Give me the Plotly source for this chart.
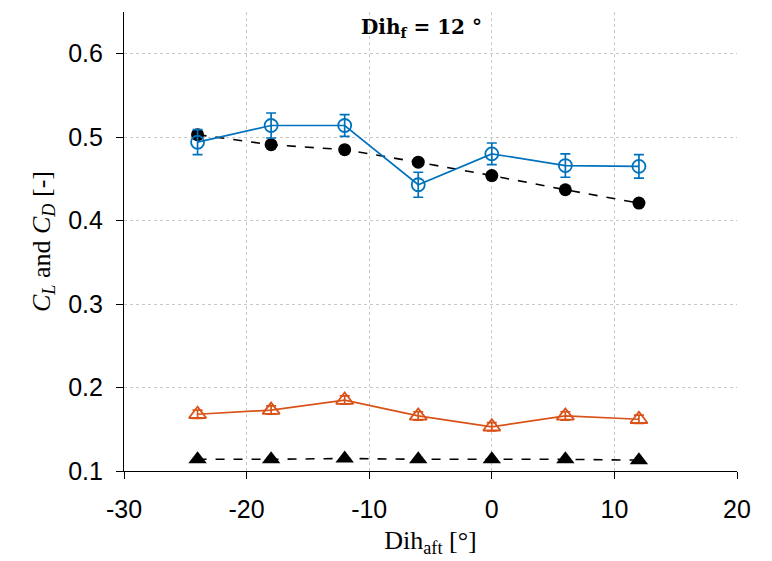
import plotly.graph_objects as go

dih_aft = [-24, -18, -12, -6, 0, 6, 12]
cl_exp = [0.494, 0.514, 0.514, 0.443, 0.480, 0.466, 0.465]
cl_err = [0.015, 0.015, 0.013, 0.015, 0.013, 0.014, 0.014]
cl_num = [0.503, 0.491, 0.485, 0.470, 0.454, 0.437, 0.421]
cd_exp = [0.168, 0.173, 0.185, 0.166, 0.153, 0.166, 0.162]
cd_err = [0.005, 0.005, 0.005, 0.005, 0.005, 0.005, 0.005]
cd_num = [0.114, 0.114, 0.115, 0.114, 0.114, 0.114, 0.113]

x_ticks = [-30, -20, -10, 0, 10, 20]
x_labels = ["-30", "-20", "-10", "0", "10", "20"]
y_ticks = [0.1, 0.2, 0.3, 0.4, 0.5, 0.6]
y_labels = ["0.1", "0.2", "0.3", "0.4", "0.5", "0.6"]

blue = "#0072BD"
orange = "#D95319"

fig = go.Figure()
fig.add_trace(go.Scatter(x=dih_aft, y=cl_num, mode="lines+markers",
                         line=dict(color="black", width=1.6, dash="dash"),
                         marker=dict(symbol="circle", size=13, color="black")))
fig.add_trace(go.Scatter(x=dih_aft, y=cl_exp, mode="lines+markers",
                         line=dict(color=blue, width=1.7),
                         marker=dict(symbol="circle-open", size=13, color=blue, line=dict(width=1.8)),
                         error_y=dict(type="data", array=cl_err, color=blue, thickness=1.7, width=5)))
fig.add_trace(go.Scatter(x=dih_aft, y=cd_exp, mode="lines+markers",
                         line=dict(color=orange, width=1.7),
                         marker=dict(symbol="triangle-up-open", size=15, color=orange, line=dict(width=1.8)),
                         error_y=dict(type="data", array=cd_err, color=orange, thickness=1.7, width=5)))
fig.add_trace(go.Scatter(x=dih_aft, y=cd_num, mode="lines+markers",
                         line=dict(color="black", width=1.6, dash="dash"),
                         marker=dict(symbol="triangle-up", size=16, color="black")))

axis_common = dict(showline=True, linecolor="black", linewidth=1.2, ticks="outside",
                   ticklen=7, tickcolor="black", tickwidth=1.2,
                   showgrid=True, gridcolor="#c8c8c8", griddash="dot", gridwidth=1,
                   zeroline=False, mirror=False,
                   tickfont=dict(family="Liberation Sans, Arial", size=25, color="black"))

serif = "Liberation Serif, DejaVu Serif"

fig.update_layout(
    width=772, height=561,
    margin=dict(l=116, r=43, t=4, b=98),
    plot_bgcolor="white", paper_bgcolor="white",
    showlegend=False,
    xaxis=dict(range=[-30, 20], tickvals=x_ticks, ticktext=x_labels, ticklabelstandoff=9,
               title=dict(text="Dih<sub>aft</sub> [°]", standoff=8,
                          font=dict(family=serif, size=26, color="black")),
               **axis_common),
    yaxis=dict(range=[0.1, 0.65], tickvals=y_ticks, ticktext=y_labels, ticklabelstandoff=8,
               title=dict(text="<i>C<sub>L</sub></i> and <i>C<sub>D</sub></i> [-]", standoff=10,
                          font=dict(family=serif, size=26, color="black")),
               **axis_common),
    annotations=[dict(text="<b>Dih<sub>f</sub> = 12 °</b>", xref="paper", yref="paper",
                      x=0.485, y=0.966, showarrow=False, xanchor="center", yanchor="middle",
                      font=dict(family="DejaVu Serif", size=20, color="black"))],
)

fig.write_html("out.html")
